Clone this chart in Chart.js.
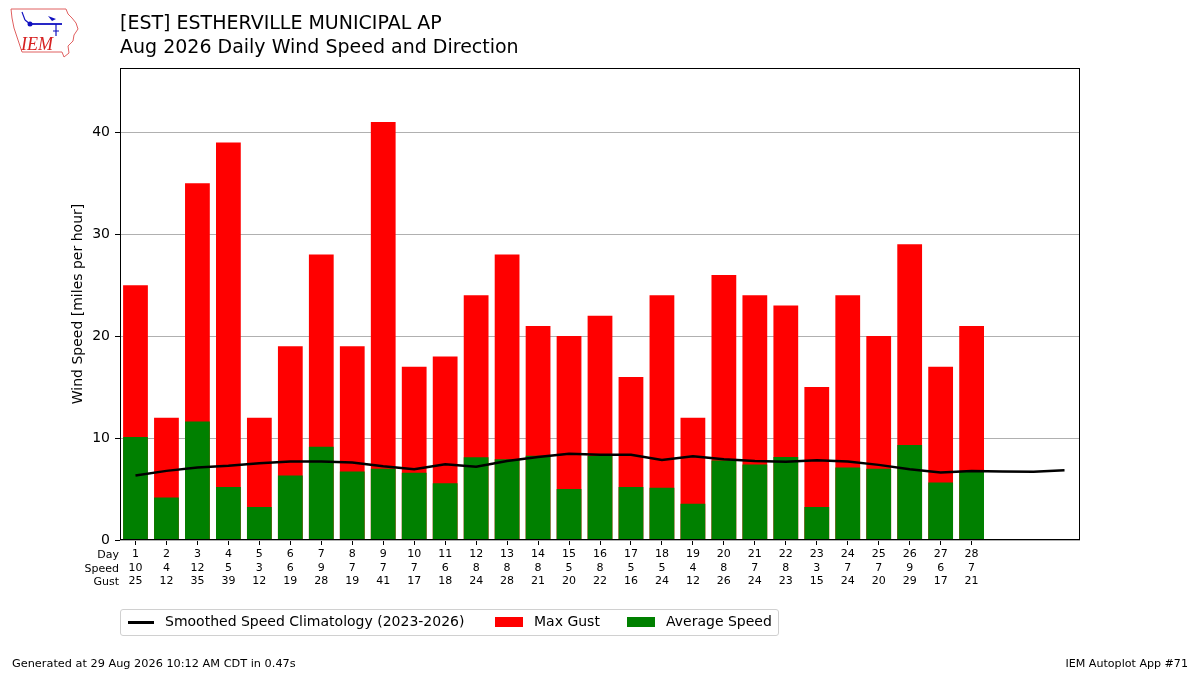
<!DOCTYPE html>
<html>
<head>
<meta charset="utf-8">
<script src="https://cdn.jsdelivr.net/npm/chart.js@4.4.1/dist/chart.umd.min.js"></script>
<style>
  body { margin: 0; background: #fff; font-family: "DejaVu Sans", sans-serif; }
  #wrap { position: relative; width: 1200px; height: 675px; overflow: hidden; }
  #chart { position: absolute; left: 0; top: 0; }
  .t { position: absolute; white-space: nowrap; color: #000; }
  #title1 { left: 120px; top: 11px; font-size: 19px; }
  #title2 { left: 120px; top: 35px; font-size: 19px; }
  #legend { position: absolute; left: 120px; top: 609px; width: 657px; height: 25px;
            border: 1px solid #d0d0d0; border-radius: 3px; }
  .lg { position: absolute; top: 3px; font-size: 14px; white-space: nowrap; }
  .sw { position: absolute; }
  #foot1 { left: 12px; top: 657px; font-size: 11.3px; }
  #foot2 { right: 12px; top: 657px; font-size: 11.1px; }
  #logo { position: absolute; left: 8px; top: 6px; }
</style>
</head>
<body>
<div id="wrap">
  <canvas id="chart" width="1200" height="675"></canvas>
  <svg id="logo" width="74" height="54" viewBox="0 0 74 54">
    <path d="M3 3 L58 3 L60 8 L64 12 L68 17 L70 23 L66 29 L65 35 L60 40 L61 47 L56 51 L54 46 L14 46 L12 40 L9 31 L6 22 L4 12 Z"
          fill="none" stroke="#e06060" stroke-width="1"/>
    <line x1="22" y1="18" x2="54" y2="18" stroke="#1010c0" stroke-width="1.8"/>
    <circle cx="22" cy="18" r="2.5" fill="#1010c0"/>
    <line x1="14" y1="6" x2="17" y2="14" stroke="#1010c0" stroke-width="1.2"/>
    <line x1="17" y1="14" x2="22" y2="18" stroke="#1010c0" stroke-width="1.2"/>
    <path d="M40 10 L48 13 L44 15 Z" fill="#1010c0"/>
    <line x1="48" y1="18" x2="48" y2="30" stroke="#1010c0" stroke-width="1.2"/>
    <line x1="45" y1="25" x2="51" y2="25" stroke="#1010c0" stroke-width="1"/>
    <text x="13" y="44" font-family="Liberation Serif" font-style="italic" font-size="18" fill="#d62020">IEM</text>
  </svg>
  <div class="t" id="title1">[EST] ESTHERVILLE MUNICIPAL AP</div>
  <div class="t" id="title2">Aug 2026 Daily Wind Speed and Direction</div>
  <div id="legend">
    <div class="sw" style="left:7px;top:11px;width:26px;height:3px;background:#000"></div>
    <div class="lg" style="left:44px">Smoothed Speed Climatology (2023-2026)</div>
    <div class="sw" style="left:374px;top:7px;width:28px;height:10px;background:#ff0000"></div>
    <div class="lg" style="left:413px">Max Gust</div>
    <div class="sw" style="left:506px;top:7px;width:28px;height:10px;background:#008000"></div>
    <div class="lg" style="left:545px">Average Speed</div>
  </div>
  <div class="t" id="foot1">Generated at 29 Aug 2026 10:12 AM CDT in 0.47s</div>
  <div class="t" id="foot2">IEM Autoplot App #71</div>
</div>
<script>
const days = [1, 2, 3, 4, 5, 6, 7, 8, 9, 10, 11, 12, 13, 14, 15, 16, 17, 18, 19, 20, 21, 22, 23, 24, 25, 26, 27, 28];
const avgSpeed = [10.1, 4.16, 11.63, 5.21, 3.24, 6.32, 9.14, 6.72, 6.98, 6.59, 5.57, 8.12, 7.92, 8.27,
    5.0, 8.24, 5.2, 5.13, 3.56, 7.8, 7.4, 8.13, 3.24, 7.11, 6.98, 9.31, 5.63, 6.78];
const maxGust = [25, 12, 35, 39, 12, 19, 28, 19, 41, 17, 18, 24, 28, 21, 20, 22, 16, 24, 12, 26, 24, 23, 15, 24, 20, 29, 17, 21];
const climoDays = [1, 2, 3, 4, 5, 6, 7, 8, 9, 10, 11, 12, 13, 14, 15, 16, 17, 18, 19, 20, 21, 22, 23, 24, 25, 26, 27, 28, 29, 30, 31];
const climoSpeed = [6.32, 6.78, 7.11, 7.28, 7.54, 7.7, 7.7, 7.6, 7.24, 6.95, 7.44, 7.19, 7.75, 8.14, 8.47, 8.37,
    8.37, 7.85, 8.21, 7.93, 7.74, 7.67, 7.83, 7.7, 7.37, 6.95, 6.62, 6.78, 6.72, 6.69, 6.85];
const rowTitles = ["Day", "Speed", "Gust"];
const yTicks = [0, 10, 20, 30, 40];

const FONT = "DejaVu Sans";

// plot frame plus the Day/Speed/Gust row titles under the axis
const framePlugin = {
    id: "frame",
    afterDraw(chart) {
        const { ctx, chartArea: a } = chart;
        ctx.save();
        ctx.strokeStyle = "#000";
        ctx.lineWidth = 1;
        ctx.strokeRect(Math.round(a.left) + 0.5, Math.round(a.top) + 0.5,
            Math.round(a.right - a.left) - 1, Math.round(a.bottom - a.top) - 1);
        ctx.fillStyle = "#000";
        ctx.font = "11px '" + FONT + "'";
        ctx.textAlign = "right";
        ctx.textBaseline = "middle";
        rowTitles.forEach((t, i) => ctx.fillText(t, a.left - 1, a.bottom + 15.5 + i * 13.2));
        ctx.restore();
    }
};

const ctx = document.getElementById("chart").getContext("2d");
new Chart(ctx, {
    type: "bar",
    data: {
        datasets: [
            {
                type: "line",
                label: "Smoothed Speed Climatology (2023-2026)",
                data: climoDays.map((d, i) => ({ x: d, y: climoSpeed[i] })),
                borderColor: "#000",
                borderWidth: 2.5,
                pointRadius: 0,
                tension: 0
            },
            {
                label: "Average Speed",
                data: days.map((d, i) => ({ x: d, y: avgSpeed[i] })),
                backgroundColor: "#008000",
                borderWidth: 0,
                grouped: false,
                barPercentage: 0.8,
                categoryPercentage: 1
            },
            {
                label: "Max Gust",
                data: days.map((d, i) => ({ x: d, y: maxGust[i] })),
                backgroundColor: "#ff0000",
                borderWidth: 0,
                grouped: false,
                barPercentage: 0.8,
                categoryPercentage: 1
            }
        ]
    },
    options: {
        responsive: false,
        animation: false,
        layout: { padding: { left: 66, top: 68, right: 120, bottom: 75 } },
        plugins: { legend: { display: false }, tooltip: { enabled: false } },
        scales: {
            x: {
                type: "linear",
                min: 0.5,
                max: 31.5,
                offset: false,
                afterFit: s => { s.height = 60; },
                afterBuildTicks: s => { s.ticks = days.map(d => ({ value: d })); },
                grid: { display: true, drawOnChartArea: false, drawTicks: true, tickLength: 5, tickColor: "#000", offset: false },
                border: { display: false },
                ticks: {
                    autoSkip: false,
                    maxRotation: 0,
                    padding: 3,
                    color: "#000",
                    font: { family: FONT, size: 11, lineHeight: 1.2 },
                    callback: v => {
                        const i = days.indexOf(v);
                        if (i < 0) return "";
                        return [String(days[i]), String(Math.round(avgSpeed[i])), String(maxGust[i])];
                    }
                }
            },
            y: {
                min: 0,
                max: 46.3,
                z: 1,
                afterFit: s => { s.width = 54; },
                afterBuildTicks: s => { s.ticks = yTicks.map(v => ({ value: v })); },
                grid: { color: "#b0b0b0", lineWidth: 1, tickLength: 5, tickColor: "#000" },
                border: { display: false },
                ticks: {
                    padding: 5,
                    color: "#000",
                    font: { family: FONT, size: 14 }
                },
                title: {
                    display: true,
                    text: "Wind Speed [miles per hour]",
                    color: "#000",
                    font: { family: FONT, size: 14 },
                    padding: { top: 4, bottom: 4 }
                }
            }
        }
    },
    plugins: [framePlugin]
});
</script>
</body>
</html>
